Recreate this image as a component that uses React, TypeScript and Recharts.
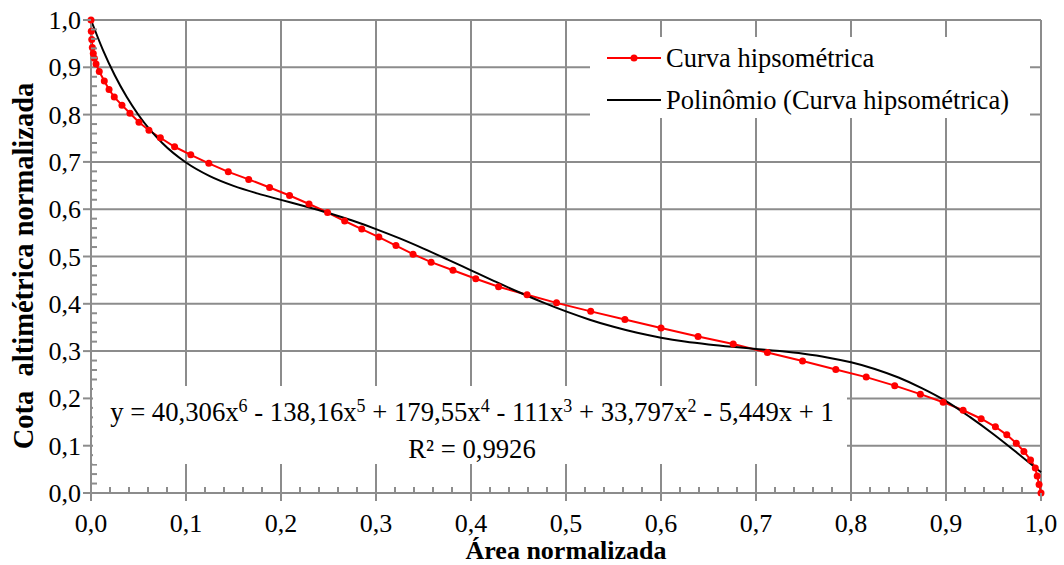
import { LineChart, Line, XAxis, YAxis, ReferenceLine } from "recharts"

// Curva hipsométrica
const hipsoX = [
  0, 0.0003, 0.0008, 0.0014, 0.0024, 0.0035, 0.0053, 0.0087, 0.014, 0.019,
  0.0245, 0.0326, 0.041, 0.0505, 0.061, 0.073, 0.088, 0.105, 0.124, 0.1445,
  0.166, 0.188, 0.209, 0.2295, 0.249, 0.267, 0.285, 0.303, 0.321, 0.339,
  0.358, 0.381, 0.405, 0.429, 0.459, 0.49, 0.526, 0.562, 0.6, 0.639,
  0.676, 0.712, 0.749, 0.784, 0.816, 0.846, 0.873, 0.897, 0.918, 0.937,
  0.952, 0.964, 0.974, 0.982, 0.989, 0.994, 0.996, 0.998, 1.0,
]
const hipsoY = [
  1.0, 0.976, 0.959, 0.942, 0.929, 0.919, 0.907, 0.891, 0.871, 0.853,
  0.837, 0.82, 0.803, 0.784, 0.767, 0.751, 0.732, 0.715, 0.697, 0.679,
  0.663, 0.646, 0.629, 0.611, 0.593, 0.575, 0.558, 0.541, 0.523, 0.505,
  0.488, 0.471, 0.453, 0.436, 0.419, 0.402, 0.384, 0.367, 0.349, 0.331,
  0.315, 0.297, 0.279, 0.261, 0.245, 0.227, 0.209, 0.192, 0.175, 0.157,
  0.14, 0.123, 0.105, 0.088, 0.07, 0.053, 0.036, 0.018, 0.0,
]

// Polinômio (trendline) as drawn
const polyX = [
  0, 0.0125, 0.025, 0.0375, 0.05, 0.075, 0.1, 0.125, 0.15, 0.175, 0.2, 0.225,
  0.25, 0.275, 0.3, 0.325, 0.35, 0.375, 0.4, 0.425, 0.45, 0.475, 0.5, 0.525,
  0.55, 0.575, 0.6, 0.625, 0.65, 0.675, 0.7, 0.725, 0.75, 0.775, 0.8, 0.825,
  0.85, 0.875, 0.9, 0.925, 0.95, 0.975, 1.0,
]
const polyY = [
  1.0, 0.937, 0.8832, 0.8377, 0.7992, 0.74, 0.6987, 0.6699, 0.6493, 0.6334, 0.6197, 0.6063,
  0.592, 0.576, 0.558, 0.5382, 0.5167, 0.494, 0.4707, 0.4475, 0.4249, 0.4035, 0.3839, 0.3664,
  0.3513, 0.3386, 0.3284, 0.3203, 0.3141, 0.309, 0.3046, 0.3, 0.2943, 0.2867, 0.2763, 0.2623,
  0.2441, 0.2212, 0.1943, 0.1609, 0.1243, 0.0847, 0.044,
]

const xMajor = [0, 0.1, 0.2, 0.3, 0.4, 0.5, 0.6, 0.7, 0.8, 0.9, 1.0]
const yMajor = [0, 0.1, 0.2, 0.3, 0.4, 0.5, 0.6, 0.7, 0.8, 0.9, 1.0]
const tickLabels = ["0,0", "0,1", "0,2", "0,3", "0,4", "0,5", "0,6", "0,7", "0,8", "0,9", "1,0"]

const hipsoData = hipsoX.map((x, i) => ({ x, y: hipsoY[i] }))
const polyData = polyX.map((x, i) => ({ x, y: polyY[i] }))

// major + 4 minor ticks per interval
const allTicks: number[] = []
for (let i = 0; i <= 50; i++) allTicks.push(Math.round(i * 2) / 100)

const FONT = "'Liberation Serif', 'Times New Roman', serif"
const GRID = "#8c8c8c"
const FS = 26

const majorIndex = (v: number) => {
  const k = Math.round(v * 10)
  return Math.abs(v * 10 - k) < 1e-6 ? k : -1
}

function XTick(props: any) {
  const { x, y, payload } = props
  const k = majorIndex(payload.value)
  if (k < 0) return <line x1={x} y1={y} x2={x} y2={y - 6} stroke={GRID} strokeWidth={2} />
  return (
    <g>
      <line x1={x} y1={y} x2={x} y2={y + 8} stroke={GRID} strokeWidth={2} />
      <text x={x} y={y + 39} textAnchor="middle" fontSize={FS} fontFamily={FONT} fill="#000">
        {tickLabels[k]}
      </text>
    </g>
  )
}

function YTick(props: any) {
  const { x, y, payload } = props
  const k = majorIndex(payload.value)
  if (k < 0) return <line x1={x} y1={y} x2={x + 6} y2={y} stroke={GRID} strokeWidth={2} />
  return (
    <g>
      <line x1={x - 8} y1={y} x2={x} y2={y} stroke={GRID} strokeWidth={2} />
      <text x={x - 10} y={y + 9} textAnchor="end" fontSize={FS} fontFamily={FONT} fill="#000">
        {tickLabels[k]}
      </text>
    </g>
  )
}

const sup = { fontSize: 18, position: "relative" as const, top: -9 }

export default function App() {
  return (
    <div style={{ position: "absolute", left: 0, top: 0, width: 1064, height: 565, background: "#fff" }}>
      <LineChart width={1064} height={565} margin={{ top: 20, right: 23, bottom: 0, left: 0 }}>
        <XAxis
          type="number"
          dataKey="x"
          domain={[0, 1]}
          ticks={allTicks}
          interval={0}
          tickSize={0}
          tickMargin={0}
          tick={<XTick />}
          height={72}
          axisLine={{ stroke: GRID, strokeWidth: 2 }}
          label={{
            content: () => (
              <text x={566} y={559} textAnchor="middle" fontSize={FS} fontWeight="bold" fontFamily={FONT} fill="#000">
                Área normalizada
              </text>
            ),
          }}
        />
        <YAxis
          type="number"
          dataKey="y"
          domain={[0, 1]}
          ticks={allTicks}
          interval={0}
          tickSize={0}
          tickMargin={0}
          tick={<YTick />}
          width={91}
          axisLine={{ stroke: GRID, strokeWidth: 2 }}
          label={{
            content: () => (
              <text
                transform="translate(33, 266) rotate(-90)"
                textAnchor="middle"
                fontSize={28.5}
                fontWeight="bold"
                fontFamily={FONT}
                fill="#000"
                style={{ whiteSpace: "pre" }}
              >
                {"Cota  altimétrica normalizada"}
              </text>
            ),
          }}
        />
        {xMajor.slice(1).map((v) => (
          <ReferenceLine key={"vx" + v} x={v} stroke={GRID} strokeWidth={2} />
        ))}
        {yMajor.slice(1).map((v) => (
          <ReferenceLine key={"hy" + v} y={v} stroke={GRID} strokeWidth={2} />
        ))}
        <Line
          data={hipsoData}
          dataKey="y"
          type="linear"
          stroke="#ff0000"
          strokeWidth={2}
          dot={{ r: 3.5, fill: "#ff0000", stroke: "#ff0000", strokeWidth: 0 }}
          isAnimationActive={false}
        />
        <Line
          data={polyData}
          dataKey="y"
          type="monotone"
          stroke="#000000"
          strokeWidth={2}
          dot={false}
          isAnimationActive={false}
        />
      </LineChart>

      <div
        style={{
          position: "absolute",
          left: 590,
          top: 37,
          width: 440,
          height: 81,
          background: "#fff",
          fontFamily: FONT,
          fontSize: 26.5,
          color: "#000",
        }}
      >
        <svg style={{ position: "absolute", left: 17, top: 14 }} width={54} height={14}>
          <line x1={0} y1={7} x2={54} y2={7} stroke="#ff0000" strokeWidth={2} />
          <circle cx={27} cy={7} r={3.5} fill="#ff0000" />
        </svg>
        <div style={{ position: "absolute", left: 76, top: 4, whiteSpace: "nowrap", lineHeight: "34px" }}>
          Curva hipsométrica
        </div>
        <svg style={{ position: "absolute", left: 17, top: 56 }} width={54} height={14}>
          <line x1={0} y1={7} x2={54} y2={7} stroke="#000" strokeWidth={2} />
        </svg>
        <div style={{ position: "absolute", left: 76, top: 46, whiteSpace: "nowrap", lineHeight: "34px" }}>
          Polinômio (Curva hipsométrica)
        </div>
      </div>

      <div
        style={{
          position: "absolute",
          left: 93,
          top: 386,
          width: 754,
          height: 78,
          background: "#fff",
          fontFamily: FONT,
          fontSize: 26.7,
          color: "#000",
          textAlign: "center",
          paddingLeft: 4,
          boxSizing: "border-box",
        }}
      >
        <div style={{ lineHeight: "34px", marginTop: 9, whiteSpace: "nowrap" }}>
          y = 40,306x<span style={sup}>6</span> - 138,16x<span style={sup}>5</span> + 179,55x<span style={sup}>4</span> - 111x
          <span style={sup}>3</span> + 33,797x<span style={sup}>2</span> - 5,449x + 1
        </div>
        <div style={{ lineHeight: "34px", whiteSpace: "nowrap" }}>R² = 0,9926</div>
      </div>
    </div>
  )
}
